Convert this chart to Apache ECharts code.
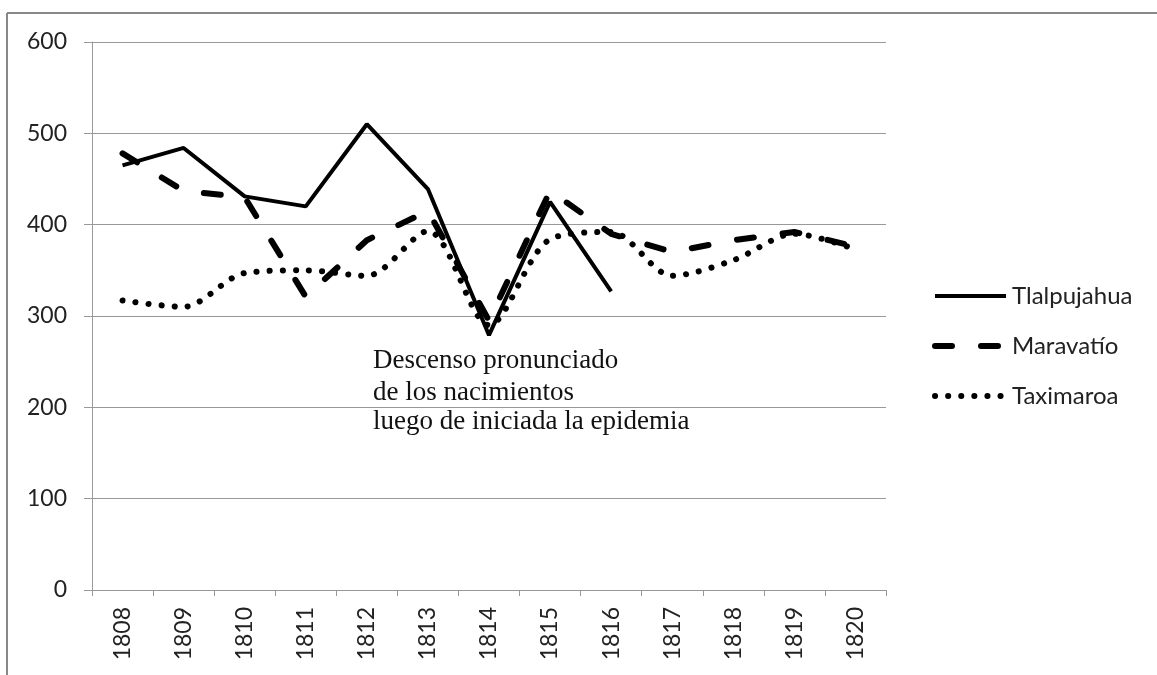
<!DOCTYPE html>
<html><head><meta charset="utf-8">
<script src="https://cdn.jsdelivr.net/npm/echarts@6/dist/echarts.min.js"></script>
<style>html,body{margin:0;padding:0;background:#fff}#c{width:1157px;height:675px}</style>
</head><body><div id="c"></div>
<script>
const categories = ['1808','1809','1810','1811','1812','1813','1814','1815','1816','1817','1818','1819','1820'];
const tlalpujahua = [465,484,431,420,510,439,279,425,327,null,null,null,null];
const maravatio = [478,437,430,321,383,415,295,437,390,370,383,392,376];
const taximaroa = [317,310,347,350,344,393,290,384,392,344,361,390,373];
const yTicks = [0,100,200,300,400,500,600];
const noteLines = ['Descenso pronunciado','de los nacimientos','luego de iniciada la epidemia'];

const chart = echarts.init(document.getElementById('c'));
const font = 'Lato, "Noto Sans", sans-serif';
const noteY = [361, 393, 422];
chart.setOption({
  animation:false,
  backgroundColor:'#fff',
  grid:{left:92,right:271,top:42,bottom:85,containLabel:false},
  legend:{
    orient:'vertical', left:932, top:284, padding:0, itemWidth:71, itemHeight:14, itemGap:26,
    textStyle:{fontFamily:font,fontSize:24,color:'#222',padding:[0,0,0,1]},
    itemStyle:{opacity:0},
    lineStyle:{width:'inherit'},
    data:['Tlalpujahua','Maravatío','Taximaroa']
  },
  xAxis:{
    type:'category', data:categories, boundaryGap:true,
    axisLine:{lineStyle:{color:'#999',width:1}},
    axisTick:{show:true,length:6,lineStyle:{color:'#999'}},
    axisLabel:{rotate:90,fontFamily:font,fontSize:23,color:'#222',margin:17}
  },
  yAxis:{
    type:'value', min:yTicks[0], max:yTicks[yTicks.length-1], interval:100,
    axisLine:{show:true,lineStyle:{color:'#999',width:1}},
    axisTick:{show:true,length:8,lineStyle:{color:'#999'}},
    splitLine:{lineStyle:{color:'#999',width:1}},
    axisLabel:{fontFamily:font,fontSize:23,color:'#222',margin:25}
  },
  series:[
    {name:'Tlalpujahua',type:'line',data:tlalpujahua,symbol:'none',
     lineStyle:{color:'#000',width:4},itemStyle:{color:'#000'}},
    {name:'Maravatío',type:'line',data:maravatio,symbol:'none',
     lineStyle:{color:'#000',width:6,type:[17,29],cap:'round'},itemStyle:{color:'#000'}},
    {name:'Taximaroa',type:'line',data:taximaroa,symbol:'none',smooth:0.3,
     lineStyle:{color:'#000',width:6,type:[0.1,13],cap:'round'},itemStyle:{color:'#000'}}
  ],
  graphic:[
    {type:'line',shape:{x1:7,y1:13,x2:1157,y2:13},style:{stroke:'#888',lineWidth:2}},
    {type:'line',shape:{x1:7,y1:13,x2:7,y2:675},style:{stroke:'#888',lineWidth:2}}
  ].concat(noteLines.map((t,i)=>({type:'text',x:373,y:noteY[i],style:{text:t,font:'27px "Liberation Serif", serif',fill:'#111',verticalAlign:'middle'}})))
});
</script></body></html>
